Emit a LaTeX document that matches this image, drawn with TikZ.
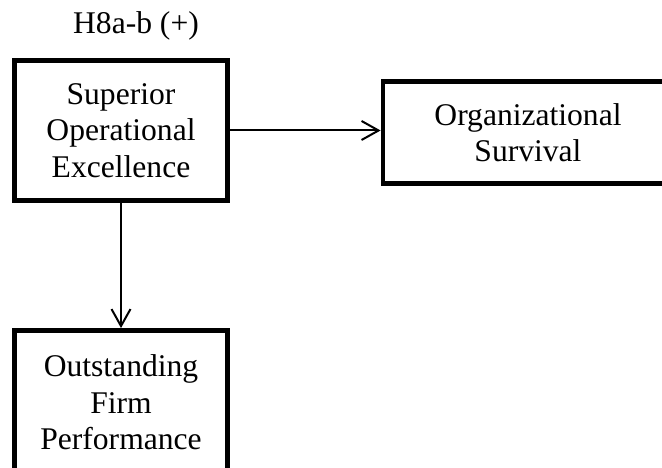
\documentclass[tikz,border=0pt]{standalone}
\usepackage{fontspec}
\setmainfont{Liberation Serif}
\usetikzlibrary{arrows.meta}
\begin{document}
\begin{tikzpicture}[x=1bp,y=1bp,
  txt/.style={font=\fontsize{31.7}{36.6}\selectfont, align=center, inner sep=0pt},
  box/.style={txt, draw, line width=4.8bp, rectangle},
  link/.style={line width=2bp, -{Straight Barb[length=17bp,width=19bp,line width=2bp]}}]
  \useasboundingbox (0,0) rectangle (662,468);
  \clip (0,0) rectangle (662,468);
  % construct boxes
  \node[box, minimum width=213.5bp, minimum height=140.5bp] (sup) at (121,337.5)
    {Superior\\Operational\\Excellence};
  \node[box, minimum width=290bp, minimum height=101.5bp] (surv) at (528,335.5)
    {Organizational\\Survival};
  \node[box, minimum width=213.5bp, minimum height=144bp] (perf) at (121,65.5)
    {Outstanding\\Firm\\Performance};
  % hypothesis label
  \node[txt, anchor=base] (hyp) at (136,434) {H8a-b (+)};
  % paths between constructs
  \draw[link] (sup.east) -- (sup.east -| surv.west);
  \draw[link] (sup.south) -- (perf.north);
\end{tikzpicture}
\end{document}
